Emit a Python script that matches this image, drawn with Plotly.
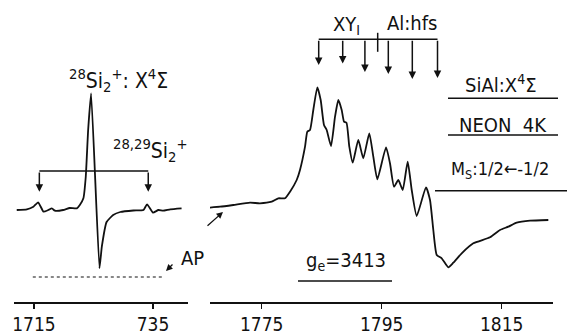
import plotly.graph_objects as go

# ---------------- data ----------------
# Left panel: 28Si2+ X4Sigma line (field, arbitrary intensity)
si_field = [1712.1, 1713.8, 1714.9, 1715.7, 1716.6, 1717.4, 1718.0, 1718.5, 1719.9,
            1721.0, 1722.2, 1722.7, 1723.3, 1723.7, 1724.1, 1724.6, 1726.0, 1726.4,
            1727.2, 1728.3, 1729.5, 1731.7, 1733.4, 1734.0, 1735.0, 1735.9, 1736.7,
            1737.9, 1739.8]
si_signal = [90.0, 90.7, 93.3, 97.7, 88.3, 90.0, 91.7, 89.3, 90.0,
             92.0, 91.7, 95.0, 101.7, 123.3, 170.0, 206.7, 31.7, 53.3,
             78.0, 85.0, 88.0, 89.5, 90.0, 95.7, 87.3, 90.0, 89.3,
             90.7, 91.7]

# Right panel: SiAl X4Sigma, Ms 1/2 <- -1/2 with Al hfs
sial_field = [1766.1, 1768.05, 1770.27, 1773.05, 1774.7, 1776.67, 1777.77, 1778.88,
              1779.72, 1780.83, 1781.38, 1782.22, 1782.6, 1783.05, 1783.6, 1784.27,
              1784.83, 1785.38, 1785.83, 1786.55, 1787.22, 1787.77, 1788.33, 1788.72,
              1789.13, 1789.6, 1790.17, 1791.1, 1791.93, 1792.93, 1793.6, 1794.27,
              1795.72, 1796.38, 1797.05, 1797.77, 1798.5, 1799.33, 1800.0, 1800.83,
              1802.38, 1803.05, 1803.6, 1804.17, 1805.0, 1806.1, 1806.93, 1808.33,
              1810.27, 1813.05, 1814.72, 1816.1, 1817.5, 1819.72, 1822.77]
sial_signal = [92.3, 93.3, 95.0, 97.3, 96.7, 98.3, 101.7, 101.7,
               108.3, 120.0, 130.0, 153.3, 168.3, 170.0, 190.0, 212.7,
               200.0, 175.0, 170.0, 154.0, 183.3, 200.0, 190.0, 178.3,
               177.3, 153.3, 137.3, 160.0, 141.7, 166.7, 143.3, 120.7,
               152.7, 136.7, 113.3, 120.0, 110.0, 138.3, 110.0, 84.0,
               112.7, 100.0, 70.0, 45.0, 41.7, 32.7, 37.3, 46.7,
               56.7, 62.7, 70.0, 73.3, 77.3, 79.3, 80.0]

# AP baseline (dotted) for the left panel
ap_field = [1714.8, 1736.7]
ap_signal = [23.0, 23.0]

# 29Si satellite positions and Al hfs line positions
si29_lines = [1715.9, 1734.2]
hfs_lines = [1784.5, 1788.5, 1792.2, 1796.1, 1800.1, 1804.3]
hfs_arrow_tips = [235.0, 236.5, 228.0, 226.0, 221.0, 222.0]
hfs_bracket_level = 260.7
si29_bracket_level = 129.0
si29_arrow_tip = 108.3
hfs_center = 1794.33

left_ticks = [1715, 1735]
left_ticktext = ["1715", "735"]
right_ticks = [1775, 1795, 1815]
right_ticktext = ["1775", "1795", "1815"]

# ---------------- figure ----------------
W, H = 567, 333
FONT = "Liberation Sans Narrow, DejaVu Sans Condensed, Liberation Sans, sans-serif"
INK = "#111111"


def px(x):
    return x / W


def py(y):
    return (H - y) / H


fig = go.Figure()

fig.add_trace(go.Scatter(x=si_field, y=si_signal, xaxis="x", yaxis="y", mode="lines",
                         line=dict(color=INK, width=1.8, shape="spline", smoothing=0.4),
                         showlegend=False, hoverinfo="skip"))
fig.add_trace(go.Scatter(x=ap_field, y=ap_signal, xaxis="x", yaxis="y", mode="lines",
                         line=dict(color=INK, width=1.2, dash="3px,3px"),
                         showlegend=False, hoverinfo="skip"))
fig.add_trace(go.Scatter(x=sial_field, y=sial_signal, xaxis="x2", yaxis="y", mode="lines",
                         line=dict(color=INK, width=1.8, shape="spline", smoothing=0.5),
                         showlegend=False, hoverinfo="skip"))

shapes = []
annotations = []
LW = 1.5

# left bracket (29Si satellites)
shapes.append(dict(type="line", xref="x", yref="y", x0=si29_lines[0], x1=si29_lines[1],
                   y0=si29_bracket_level, y1=si29_bracket_level, line=dict(color=INK, width=LW)))
for xv in si29_lines:
    annotations.append(dict(x=xv, y=si29_arrow_tip, xref="x", yref="y", ax=xv,
                            ay=si29_bracket_level, axref="x", ayref="y", text="",
                            showarrow=True, arrowhead=2, arrowsize=1, arrowwidth=LW,
                            arrowcolor=INK))

# right bracket (Al hfs)
shapes.append(dict(type="line", xref="x2", yref="y", x0=hfs_lines[0], x1=hfs_lines[-1],
                   y0=hfs_bracket_level, y1=hfs_bracket_level, line=dict(color=INK, width=LW)))
shapes.append(dict(type="line", xref="x2", yref="y", x0=hfs_center, x1=hfs_center,
                   y0=hfs_bracket_level + 6.5, y1=hfs_bracket_level - 12.5,
                   line=dict(color=INK, width=LW)))
for xv, tip in zip(hfs_lines, hfs_arrow_tips):
    annotations.append(dict(x=xv, y=tip, xref="x2", yref="y", ax=xv,
                            ay=hfs_bracket_level, axref="x2", ayref="y", text="",
                            showarrow=True, arrowhead=2, arrowsize=1, arrowwidth=LW,
                            arrowcolor=INK))

# underlines / rules
for (x0, x1, yy) in [(448, 558, 98.3), (448, 558, 135), (435, 567, 190.7), (298, 392, 281)]:
    shapes.append(dict(type="line", xref="paper", yref="paper", x0=px(x0), x1=px(x1),
                       y0=py(yy), y1=py(yy), line=dict(color=INK, width=LW)))


def label(text, x, y, size=20, xanchor="center"):
    annotations.append(dict(text=text, x=px(x), y=py(y), xref="paper", yref="paper",
                            xanchor=xanchor, yanchor="middle", showarrow=False,
                            font=dict(family=FONT, size=size, color=INK)))


label("<sup>28</sup>Si<sub>2</sub><sup>+</sup>: X<sup>4</sup>Σ", 118, 80, size=21)
label("<sup>28,29</sup>Si<sub>2</sub><sup>+</sup>", 150, 150, size=21)
label("XY<sub>I</sub>", 331, 25, xanchor="left")
label("Al:hfs", 385, 22.7, xanchor="left")
label("SiAl:X<sup>4</sup>Σ", 501, 84)
label("NEON  4K", 503, 125)
label("M<sub>S</sub>:1/2←-1/2", 500, 170, size=18)
label("g<sub>e</sub>=3413", 346, 261)
label("AP", 192, 258)

# AP arrows
annotations.append(dict(x=px(166), y=py(271), xref="paper", yref="paper", ax=8, ay=-8,
                        text="", showarrow=True, arrowhead=2, arrowsize=1, arrowwidth=1.3,
                        arrowcolor=INK))
annotations.append(dict(x=px(223), y=py(212), xref="paper", yref="paper", ax=-17, ay=15,
                        text="", showarrow=True, arrowhead=2, arrowsize=1, arrowwidth=1.3,
                        arrowcolor=INK))

axis_common = dict(showline=True, linecolor=INK, linewidth=1.5, ticks="outside", ticklen=5,
                   tickwidth=1.5, tickcolor=INK, showgrid=False, zeroline=False,
                   anchor="free", position=py(302), automargin=False,
                   tickfont=dict(family=FONT, size=19, color=INK))

fig.update_layout(
    width=W, height=H,
    margin=dict(l=0, r=0, t=0, b=0, pad=0, autoexpand=False),
    paper_bgcolor="white", plot_bgcolor="white",
    xaxis=dict(domain=[px(14), px(188)], range=[1711.64, 1740.88],
               tickvals=left_ticks, ticktext=left_ticktext, **axis_common),
    xaxis2=dict(domain=[px(210), px(553)], range=[1766.38, 1823.55],
                tickvals=right_ticks, ticktext=right_ticktext, **axis_common),
    yaxis=dict(domain=[0, 1], range=[-33, 300], visible=False, automargin=False),
    shapes=shapes,
    annotations=annotations,
)

fig.write_html("out.html",
               config={"displayModeBar": False, "staticPlot": True},
               post_script="document.body.style.margin='0px';"
                           "document.body.style.overflow='hidden';")
